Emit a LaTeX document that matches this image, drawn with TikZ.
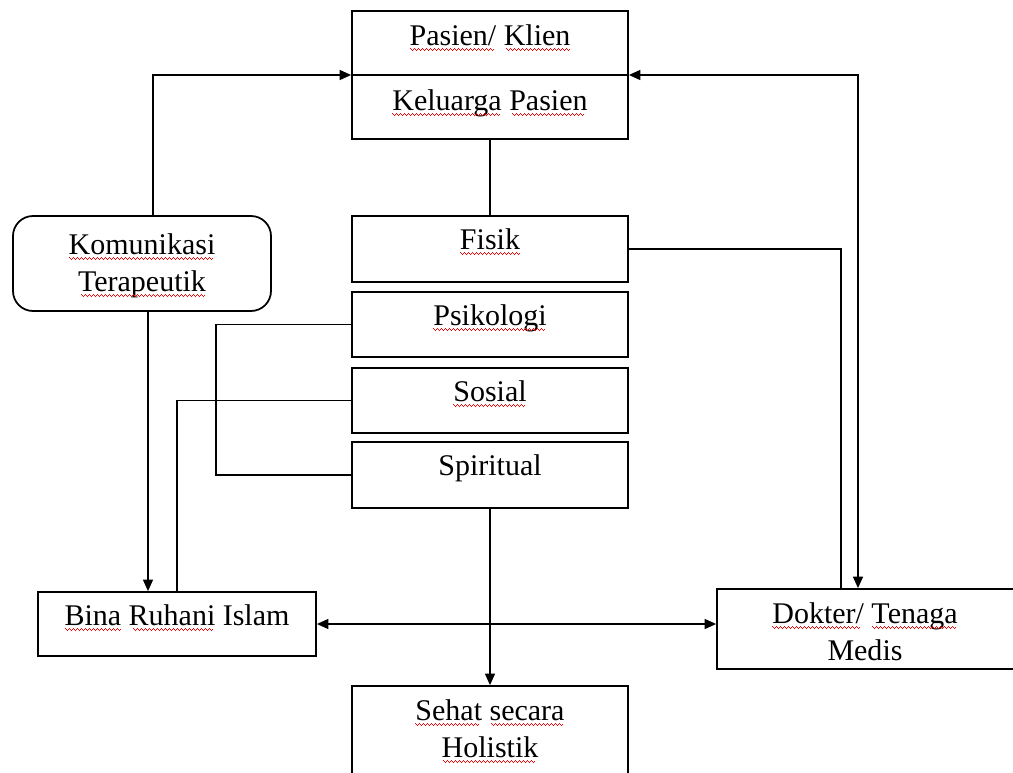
\documentclass[tikz,border=0pt]{standalone}
\usepackage{fontspec}
\setmainfont{Liberation Serif}
\usetikzlibrary{arrows.meta}
\newdimen\px \px=0.4pt
% red spell-check wave under a word, built from small rules
\newcommand\wavebit{\hbox{\vrule height-1.3pt depth1.75pt width0.4pt\vrule height-1.7pt depth2.15pt width0.4pt\vrule height-2.1pt depth2.55pt width0.4pt\vrule height-1.7pt depth2.15pt width0.4pt}}
\newcommand\typo[1]{\setbox0\hbox{#1}\rlap{\copy0}{\color{red}\leaders\wavebit\hskip\wd0}}
\tikzset{
  box/.style={draw, rectangle, line width=0.7pt, inner sep=0pt},
  lbl/.style={inner sep=0pt, align=center, anchor=base, font=\fontsize{12}{14.8}\selectfont},
  link/.style={line width=0.6pt},
  arr/.style={link, -{Triangle[length=4.6pt,width=4pt]}},
  arrs/.style={link, {Triangle[length=4.6pt,width=4pt]}-{Triangle[length=4.6pt,width=4pt]}}
}
\begin{document}
\begin{tikzpicture}[x=0.4pt,y=-0.4pt]
\useasboundingbox (0,0) rectangle (1013,773);
\clip (0,0) rectangle (1013,773);

% boxes
\node[box, minimum width=276\px, minimum height=128\px] (pasien) at (490,75) {};
\node[box, minimum width=276\px, minimum height=66\px] (fisik) at (490,249) {};
\node[box, minimum width=276\px, minimum height=65\px] (psiko) at (490,324.5) {};
\node[box, minimum width=276\px, minimum height=65\px] (sosial) at (490,400.5) {};
\node[box, minimum width=276\px, minimum height=66\px] (spirit) at (490,475) {};
\node[box, rounded corners=8pt, minimum width=258\px, minimum height=95\px] (komunikasi) at (142,263.5) {};
\node[box, minimum width=278\px, minimum height=64\px] (bina) at (177,624) {};
\node[box, minimum width=323\px, minimum height=80\px] (dokter) at (878.5,629) {};
\node[box, minimum width=276\px, minimum height=114\px] (sehat) at (490,743) {};
\draw[line width=0.7pt] (pasien.west) -- (pasien.east);

% texts (two-line texts sit on their last baseline)
\node[lbl] (pasient) at (490,45) {\typo{Pasien/} \typo{Klien}};
\node[lbl] (keluargat) at (490,110) {\typo{Keluarga} \typo{Pasien}};
\node[lbl] (fisikt) at (490,249) {\typo{Fisik}};
\node[lbl] (psikot) at (490,325) {\typo{Psikologi}};
\node[lbl] (sosialt) at (490,401) {\typo{Sosial}};
\node[lbl] (spiritt) at (490,475) {Spiritual};
\node[lbl] (komunikasit) at (142,291) {\typo{Komunikasi}\\\typo{Terapeutik}};
\node[lbl] (binat) at (177,625) {\typo{Bina} \typo{Ruhani} Islam};
\node[lbl] (doktert) at (865,660) {\typo{Dokter/} \typo{Tenaga}\\Medis};
\node[lbl] (sehatt) at (490,757) {\typo{Sehat} \typo{secara}\\\typo{Holistik}};

% connectors
\draw[link] (pasien.south) -- (fisik.north);
\draw[arr] ([xshift=11\px]komunikasi.north) |- (pasien.west);
\draw[arr] ([xshift=6\px]komunikasi.south) -- ([xshift=6\px]komunikasi.south |- bina.north);
\draw[link] (bina.north) |- (sosial.west);
\draw[link] (psiko.west) -- ++(-135,0) |- (spirit.west);
\draw[link] (fisik.east) -| ([xshift=-37.5\px]dokter.north);
\draw[arrs] ([xshift=-20.5\px]dokter.north) |- (pasien.east);
\draw[arr] (spirit.south) -- (sehat.north);
\draw[arrs] (bina.east) -- (bina.east -| dokter.west);
\end{tikzpicture}
\end{document}
